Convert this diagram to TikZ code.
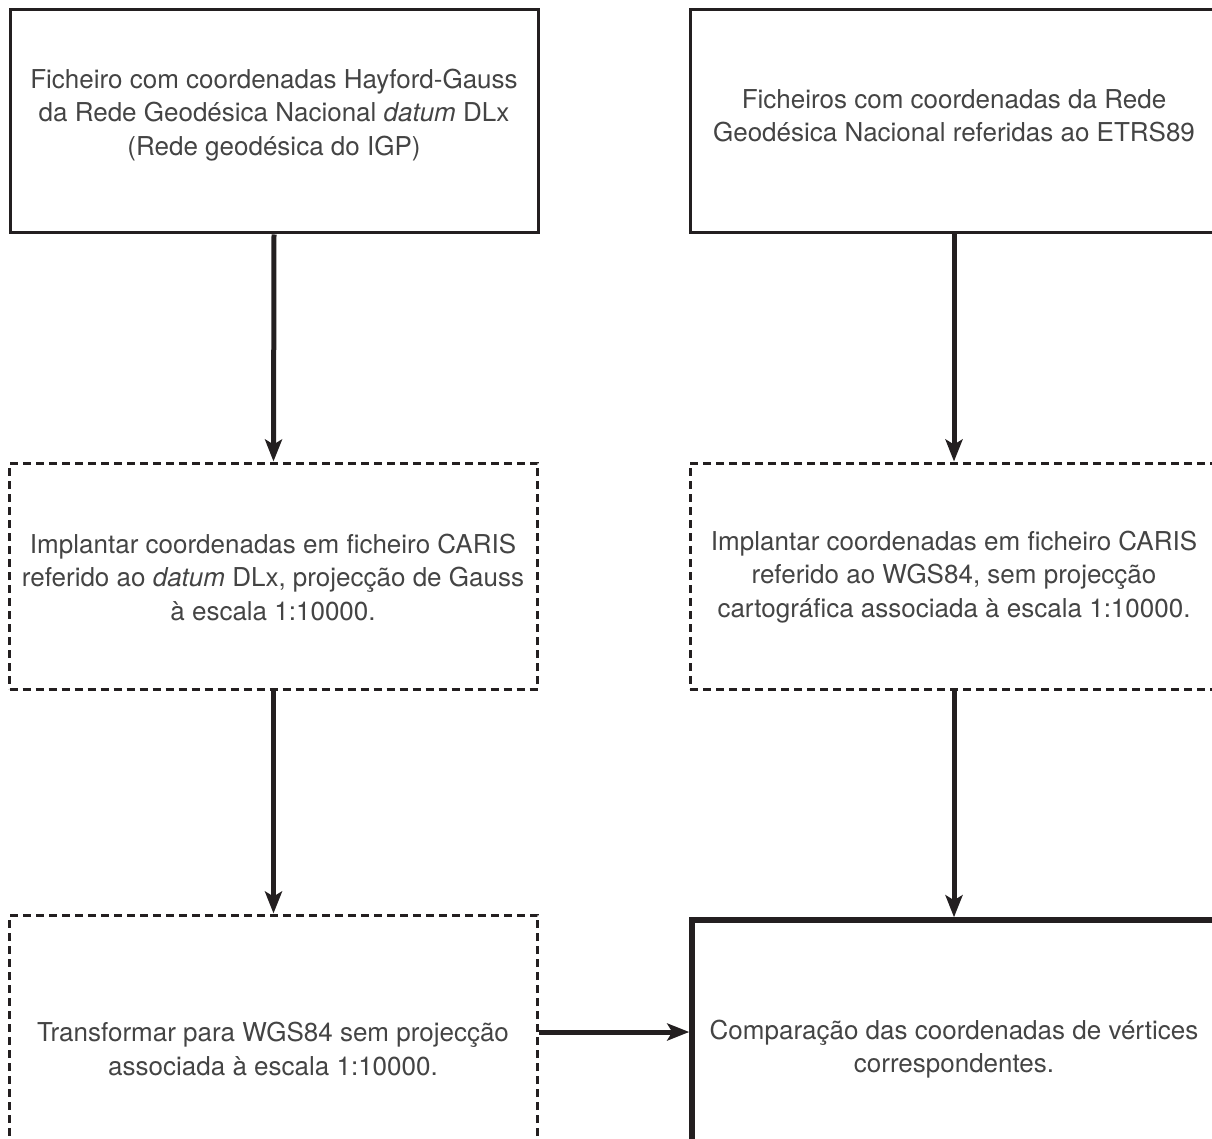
\documentclass[tikz,border=0pt]{standalone}
\usepackage{fontspec}
\setmainfont{TeX Gyre Heros}
\usetikzlibrary{arrows.meta}
\definecolor{ink}{HTML}{231F20}
\definecolor{txt}{HTML}{444444}
\begin{document}
\begin{tikzpicture}[x=1pt,y=-1pt,
  box/.style={draw=ink,rectangle,inner sep=0pt,minimum width=528pt,minimum height=223pt},
  dbox/.style={box,minimum height=226pt,line width=3pt,dash pattern=on 8pt off 5pt},
  sbox/.style={box,line width=3pt},
  tbox/.style={box,minimum height=226pt,line width=5.5pt},
  lbl/.style={align=center,text=txt,inner sep=0pt,font=\fontsize{26}{33.5}\selectfont},
  arr/.style={draw=ink,line width=5pt,-{Stealth[length=22pt,width=17pt,inset=5pt]}}]
\clip (0,0) rectangle (1212,1139);
\node[sbox] (b1) at (274,121.5) {};
\node[sbox] (b2) at (954,121.5) {};
\node[dbox] (b3) at (273.5,576) {};
\node[dbox] (b4) at (954,576) {};
\node[dbox] (b5) at (273.5,1028) {};
\node[tbox] (b6) at (956,1033) {};
\node[lbl] (t1) at (274,115) {Ficheiro com coordenadas Hayford-Gauss\\da Rede Geodésica Nacional \textit{datum} DLx\\(Rede geodésica do IGP)};
\node[lbl] (t2) at (954,116) {Ficheiros com coordenadas da Rede\\Geodésica Nacional referidas ao ETRS89};
\node[lbl] (t3) at (273,577) {Implantar coordenadas em ficheiro CARIS\\referido ao \textit{datum} DLx, projecção de Gauss\\à escala 1:10000.};
\node[lbl] (t4) at (954,577) {Implantar coordenadas em ficheiro CARIS\\referido ao WGS84, sem projecção\\cartográfica associada à escala 1:10000.};
\node[lbl] (t5) at (273,1049) {Transformar para WGS84 sem projecção\\associada à escala 1:10000.};
\node[lbl] (t6) at (954,1049) {Comparação das coordenadas de vértices\\correspondentes.};
\coordinate (hy) at (0,1032);
\draw[arr] (b1.south) -- (b3.north);
\draw[arr] (b3.south) -- (b5.north);
\draw[arr] (b2.south) -- (b4.north);
\draw[arr] (b4.south) -- (b4.south |- b6.north);
\draw[arr] (b5.east |- hy) -- (b6.west |- hy);
\end{tikzpicture}
\end{document}
